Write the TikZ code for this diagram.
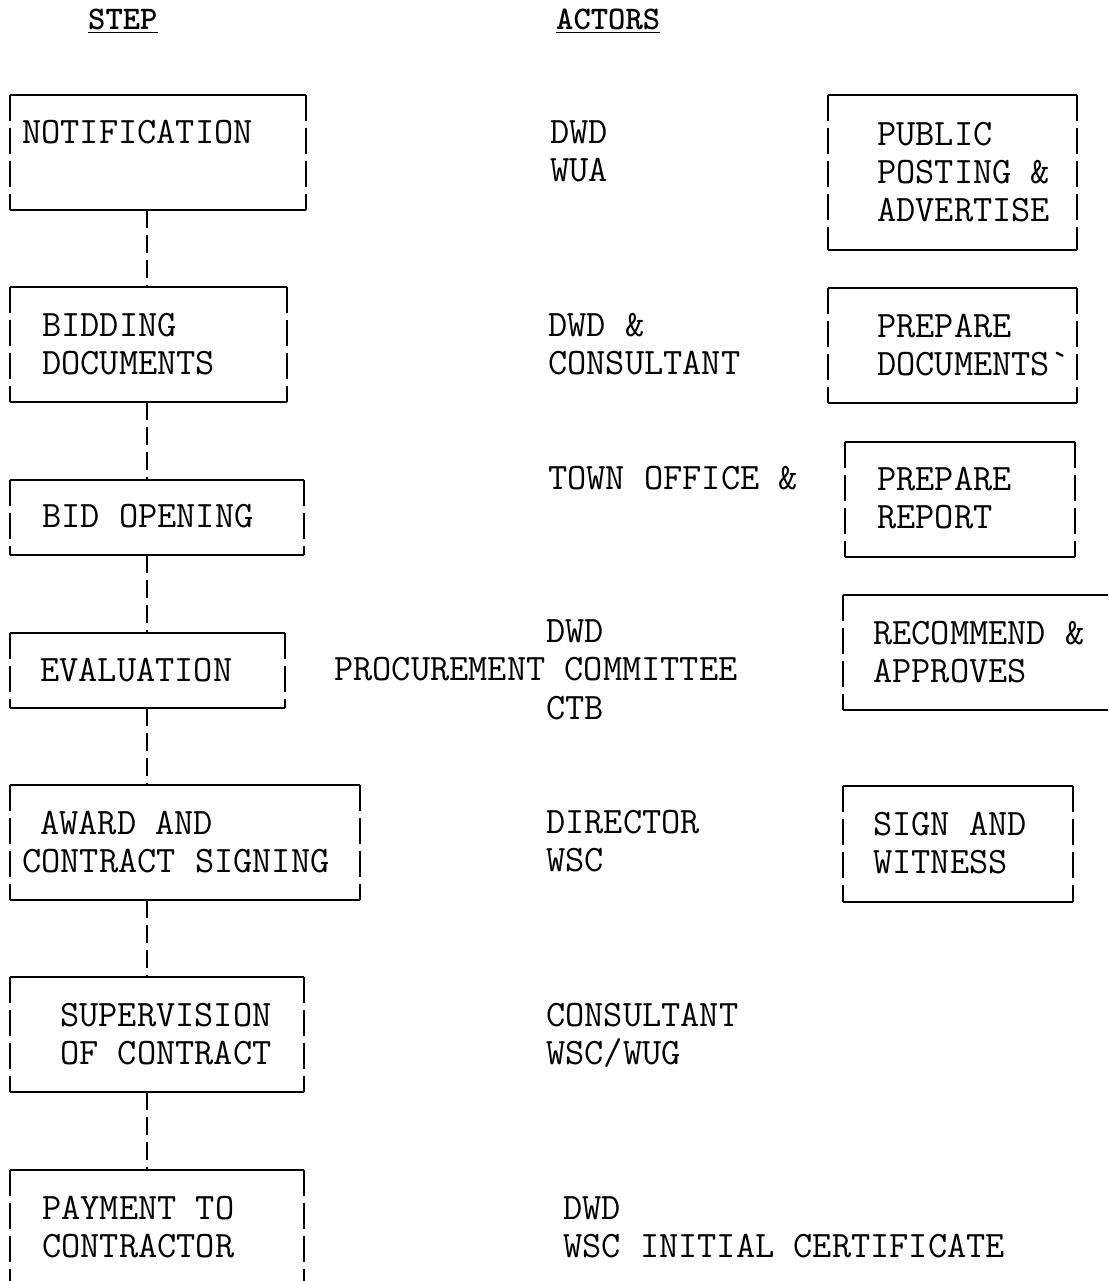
\documentclass[tikz,border=0pt]{standalone}
\usepackage{fontspec}
\newcommand\brokenbox[1]{%
  \draw[edge] (#1.north west) -- (#1.north east) (#1.south west) -- (#1.south east);
  \draw[edge, dash pattern=on 26pt off 7pt] (#1.north west) -- (#1.south west) (#1.north east) -- (#1.south east);}
\begin{document}
\begin{tikzpicture}[x=1pt,y=-1pt,
  edge/.style={line width=2pt},
  conn/.style={line width=2pt, dash pattern=on 18pt off 7pt},
  txt/.style={inner sep=0pt, anchor=base west, font=\ttfamily\fontsize{37.3}{38}\selectfont},
  hdr/.style={txt, font=\ttfamily\fontsize{33}{38}\selectfont\bfseries},
  boxn/.style={inner sep=0pt, minimum width=#1},
  bh/.style={minimum height=#1}]
\useasboundingbox (0,0) rectangle (1108,1281);
\clip (0,0) rectangle (1108,1281);
% headers
\node[hdr] (hstep) at (88,30) {\underline{STEP}};
\node[hdr] (hact) at (556,30) {\underline{ACTORS}};
% step boxes
\node[boxn=296, bh=115] (b1) at (158,152.5) {};
\node[boxn=277, bh=115] (b2) at (148.5,344.5) {};
\node[boxn=294, bh=75] (b3) at (157,517.5) {};
\node[boxn=275, bh=75] (b4) at (147.5,670.5) {};
\node[boxn=350, bh=115] (b5) at (185,842.5) {};
\node[boxn=294, bh=115] (b6) at (157,1034.5) {};
\node[boxn=294, bh=140] (b7) at (157,1240) {};
\foreach \b in {b1,b2,b3,b4,b5,b6,b7} {\brokenbox{\b}}
% right boxes
\node[boxn=249, bh=155] (r1) at (952.5,172.5) {};
\node[boxn=249, bh=115] (r2) at (952.5,345.5) {};
\node[boxn=230, bh=115] (r3) at (960,499.5) {};
\node[boxn=277, bh=115] (r4) at (981.5,652.5) {};
\node[boxn=230, bh=116] (r5) at (958,844) {};
\foreach \b in {r1,r2,r3,r4,r5} {\brokenbox{\b}}
% connectors
\coordinate (cx) at (147,0);
\draw[conn] (b1.south -| cx) -- (b2.north -| cx);
\draw[conn] (b2.south -| cx) -- (b3.north -| cx);
\draw[conn] (b3.south -| cx) -- (b4.north -| cx);
\draw[conn] (b4.south -| cx) -- (b5.north -| cx);
\draw[conn] (b5.south -| cx) -- (b6.north -| cx);
\draw[conn] (b6.south -| cx) -- (b7.north -| cx);
% step texts
\node[txt] (t1) at (22,144) {NOTIFICATION};
\node[txt] (t2a) at (42,336) {BIDDING};
\node[txt] (t2b) at (42,374) {DOCUMENTS};
\node[txt] (t3) at (42,527) {BID OPENING};
\node[txt] (t4) at (40,681) {EVALUATION};
\node[txt] (t5a) at (40,834) {AWARD AND};
\node[txt] (t5b) at (22,872) {CONTRACT SIGNING};
\node[txt] (t6a) at (60,1026) {SUPERVISION};
\node[txt] (t6b) at (60,1064) {OF CONTRACT};
\node[txt] (t7a) at (42,1219) {PAYMENT TO};
\node[txt] (t7b) at (42,1257) {CONTRACTOR};
% actors
\node[txt] (a1a) at (550,144) {DWD};
\node[txt] (a1b) at (550,182) {WUA};
\node[txt] (a2a) at (548,336) {DWD \&};
\node[txt] (a2b) at (548,374) {CONSULTANT};
\node[txt] (a3) at (548,489) {TOWN OFFICE \&};
\node[txt] (a4a) at (546,642) {DWD};
\node[txt] (a4b) at (334,680) {PROCUREMENT COMMITTEE};
\node[txt] (a4c) at (546,719) {CTB};
\node[txt] (a5a) at (546,833) {DIRECTOR};
\node[txt] (a5b) at (546,871) {WSC};
\node[txt] (a6a) at (546,1026) {CONSULTANT};
\node[txt] (a6b) at (546,1064) {WSC/WUG};
\node[txt] (a7a) at (563,1219) {DWD};
\node[txt] (a7b) at (563,1257) {WSC INITIAL CERTIFICATE};
% right texts
\node[txt] (p1a) at (877,146) {PUBLIC};
\node[txt] (p1b) at (877,184) {POSTING \&};
\node[txt] (p1c) at (877,222) {ADVERTISE};
\node[txt] (p2a) at (877,337) {PREPARE};
\node[txt] (p2b) at (877,375) {DOCUMENTS`};
\node[txt] (p3a) at (877,490) {PREPARE};
\node[txt] (p3b) at (877,528) {REPORT};
\node[txt] (p4a) at (873,644) {RECOMMEND \&};
\node[txt] (p4b) at (873,682) {APPROVES};
\node[txt] (p5a) at (873,835) {SIGN AND};
\node[txt] (p5b) at (873,873) {WITNESS};
\end{tikzpicture}
\end{document}
